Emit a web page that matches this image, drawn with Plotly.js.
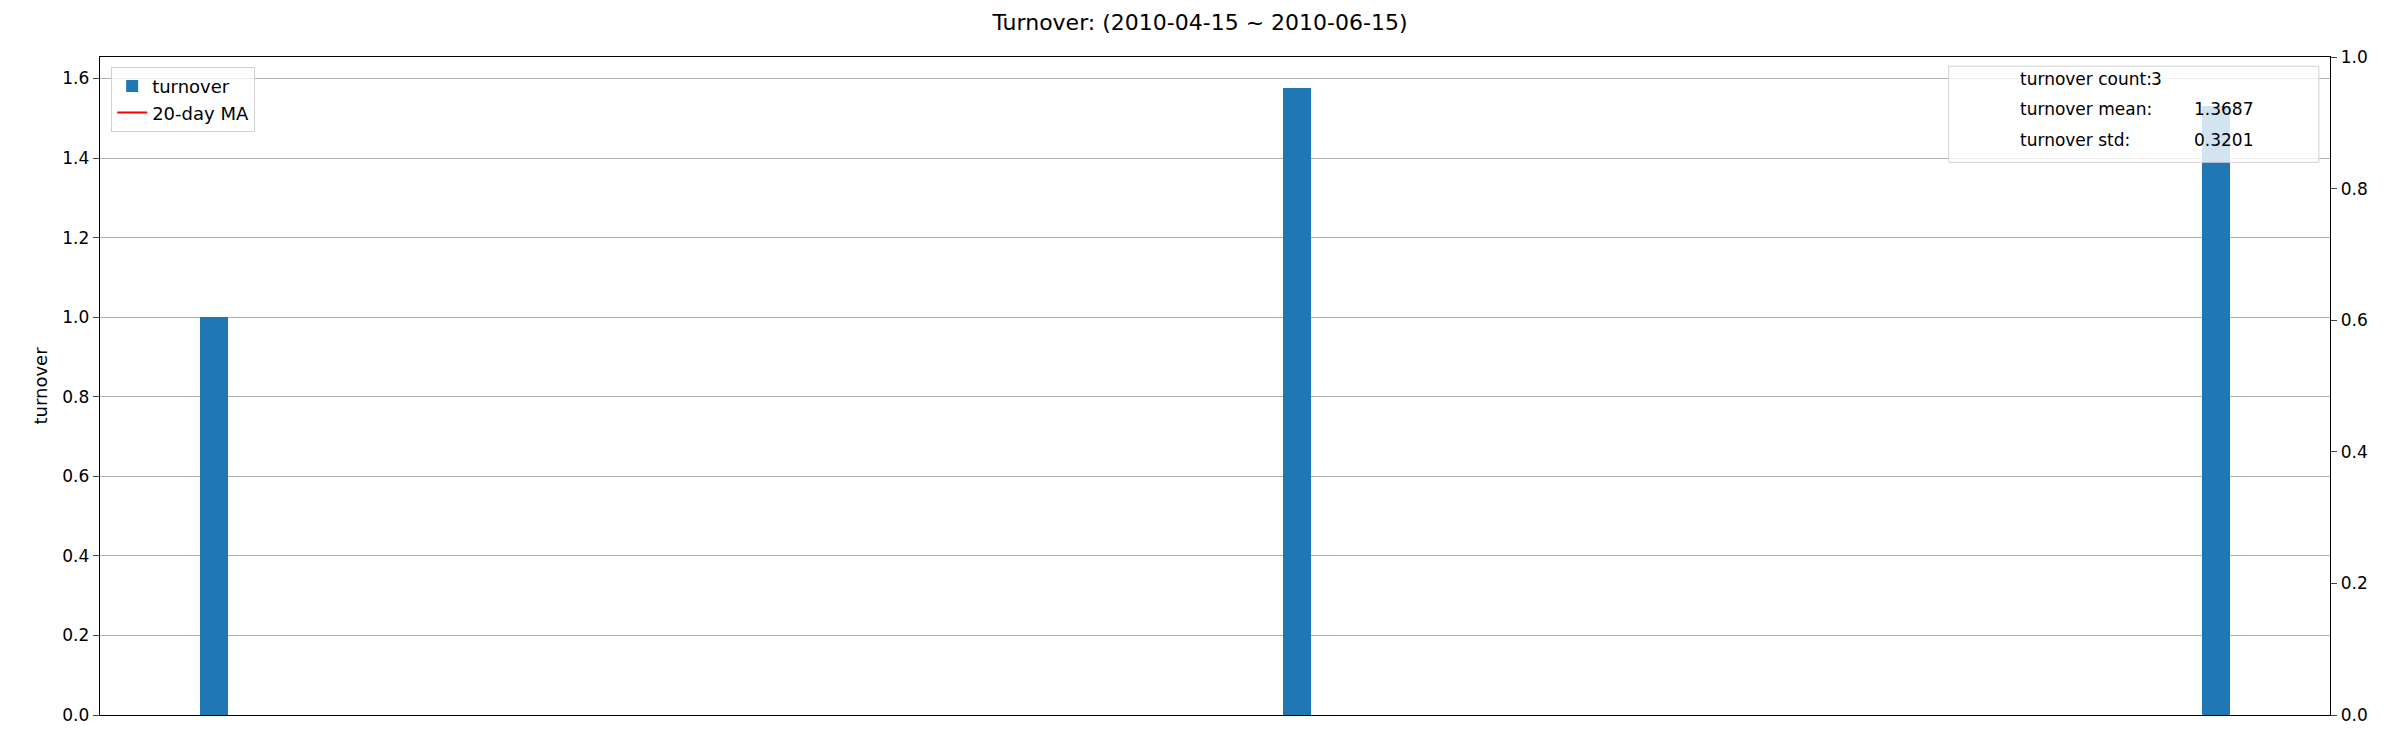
<!DOCTYPE html>
<html>
<head>
<meta charset="utf-8">
<script src="https://cdn.plot.ly/plotly-3.0.1.min.js"></script>
<style>body{margin:0;background:#fff}#chart{width:2400px;height:750px}</style>
</head>
<body>
<div id="chart"></div>
<script>
// turnover data
var dates = ["2010-04-15", "2010-05-18", "2010-06-15"];
var turnover = [1.0, 1.575, 1.531];
var ma20 = [null, null, null];
var stat_labels = ["turnover count:", "turnover mean:", "turnover std:"];
var stat_values = ["3", "1.3687", "0.3201"];

var DAY = 86400000;
var t0 = new Date(dates[0]).getTime(), t1 = new Date(dates[dates.length-1]).getTime();
var pad = (t1 - t0) * 0.057;
var xr = [new Date(t0 - pad).toISOString(), new Date(t1 + pad).toISOString()];

var bars = {
    x: dates, y: turnover, type: 'bar', name: 'turnover',
    width: 0.85 * DAY, marker: {color: '#1f77b4'}
};
var ma = {
    x: dates, y: ma20, type: 'scatter', mode: 'lines', name: '20-day MA',
    line: {color: 'red', width: 2}, connectgaps: false
};
var right = {x: dates, y: [null, null, null], yaxis: 'y2', type: 'scatter', showlegend: false, hoverinfo: 'skip'};

// stats box: labels column + values column
var rowY = [0.966, 0.921, 0.874];
var valX = [0.919, 0.938, 0.938];
var annots = [];
stat_labels.forEach(function(l, i) {
    annots.push({xref: 'paper', yref: 'paper', x: 0.86, y: rowY[i], xanchor: 'left', yanchor: 'middle',
        text: l, showarrow: false, font: {size: 17}});
    annots.push({xref: 'paper', yref: 'paper', x: valX[i], y: rowY[i], xanchor: 'left', yanchor: 'middle',
        text: stat_values[i], showarrow: false, font: {size: 17}});
});

var layout = {
    width: 2400, height: 750,
    margin: {l: 100, r: 70, t: 57, b: 35},
    paper_bgcolor: 'white', plot_bgcolor: 'white',
    font: {family: 'DejaVu Sans', size: 17, color: 'black'},
    title: {text: 'Turnover: (2010-04-15 ~ 2010-06-15)', font: {size: 22}, x: 0.5, y: 0.97, yanchor: 'middle'},
    bargap: 0,
    xaxis: {type: 'date', range: xr, showticklabels: false, showgrid: false, zeroline: false,
        showline: true, mirror: true, linecolor: 'black', linewidth: 1.3, ticks: ''},
    yaxis: {range: [0, 1.654], dtick: 0.2, tickformat: '.1f', showgrid: true, gridcolor: '#b0b0b0',
        zeroline: false, showline: true, linecolor: 'black', linewidth: 1.3, ticks: 'outside', ticklen: 6,
        title: {text: 'turnover', font: {size: 18}, standoff: 10}},
    yaxis2: {overlaying: 'y', side: 'right', range: [0, 1], dtick: 0.2, tickformat: '.1f', showgrid: false,
        zeroline: false, showline: true, linecolor: 'black', linewidth: 1.3, ticks: 'outside', ticklen: 6},
    legend: {x: 0.005, y: 0.985, xanchor: 'left', yanchor: 'top', bgcolor: 'rgba(255,255,255,0.8)',
        bordercolor: '#d0d0d0', borderwidth: 1, font: {size: 18}, tracegroupgap: 2},
    shapes: [{type: 'rect', xref: 'paper', yref: 'paper', x0: 0.829, x1: 0.995, y0: 0.840, y1: 0.986,
        fillcolor: 'rgba(255,255,255,0.8)', line: {color: '#d0d0d0', width: 1}, layer: 'above'}],
    annotations: annots
};

Plotly.newPlot('chart', [bars, ma, right], layout, {displayModeBar: false, staticPlot: true});
</script>
</body>
</html>
